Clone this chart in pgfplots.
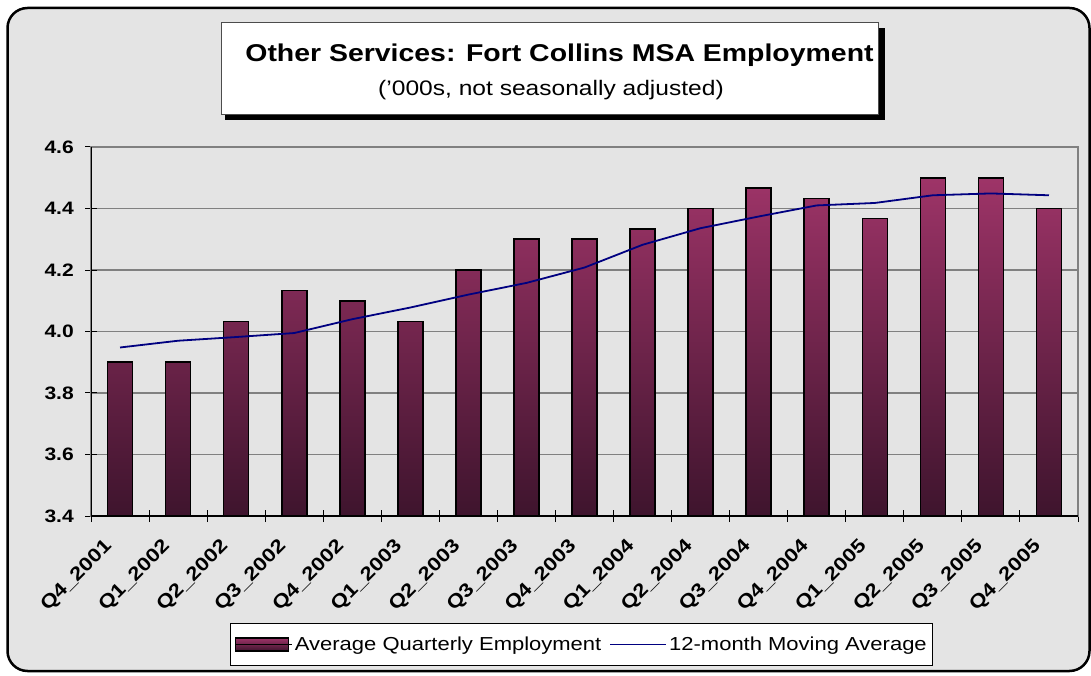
\documentclass[border=0pt]{standalone}
\usepackage{pgfplots}
\pgfplotsset{compat=1.18}
\usepackage{fontspec}
\setmainfont{Liberation Sans}[FakeStretch=1.17]
\definecolor{bggray}{RGB}{228,228,228}
\definecolor{plumtop}{RGB}{158,52,104}
\definecolor{plummid}{RGB}{125,40,84}
\definecolor{plumbot}{RGB}{62,20,45}
\definecolor{navyline}{RGB}{0,0,128}
\definecolor{gridgray}{RGB}{128,128,128}
\pgfplotsset{
  barlegend/.style={legend image code/.code={\draw[##1, line width=1.2pt] (0pt,-6.5pt) rectangle (53pt,6.5pt); \path (0pt,0pt) -- (57pt,0pt);}},
  linelegend/.style={legend image code/.code={\draw[##1] (0pt,0pt) -- (56pt,0pt);}},
}
\begin{document}
\begin{tikzpicture}[x=1pt,y=1pt]
\fill[white] (0,0) rectangle (1091,675);
\filldraw[fill=bggray, draw=black, line width=2.5pt, rounded corners=20pt] (7.5,4) rectangle (1089.5,667);
% title box
\fill[black] (225,555) rectangle (885,647);
\filldraw[fill=white, draw=black!70, line width=1pt] (221,560) rectangle (878,652);
\node[anchor=base, inner sep=0pt, font=\bfseries\fontsize{24.3}{28}\selectfont] at (559.5,613) {Other Services: Fort Collins MSA Employment};
\node[anchor=base, inner sep=0pt, font=\fontsize{21}{25}\selectfont] at (551,579) {('000s, not seasonally adjusted)};
\begin{axis}[
  at={(91pt,159pt)}, anchor=south west,
  scale only axis, width=987pt, height=369pt,
  xmin=-0.5, xmax=16.5,
  y coord trafo/.code={\pgfmathparse{#1-3.4}},
  y coord inv trafo/.code={\pgfmathparse{#1+3.4}},
  ymin=3.4, ymax=4.6,
  ytick={3.4,3.6,3.8,4.0,4.2,4.4,4.6},
  yticklabels={3.4,3.6,3.8,4.0,4.2,4.4,4.6},
  xtick={0,...,16},
  xticklabels={Q4\_2001,Q1\_2002,Q2\_2002,Q3\_2002,Q4\_2002,Q1\_2003,Q2\_2003,Q3\_2003,Q4\_2003,Q1\_2004,Q2\_2004,Q3\_2004,Q4\_2004,Q1\_2005,Q2\_2005,Q3\_2005,Q4\_2005},
  minor xtick={-0.5,0.5,...,16.5},
  major x tick style={draw=none},
  minor x tick style={draw=black, line width=1pt},
  major y tick style={draw=black, line width=1pt},
  tick pos=left,
  tick align=center,
  major tick length=12pt,
  minor tick length=12pt,
  ymajorgrids,
  major grid style={draw=gridgray, line width=1.3pt},
  axis line style={draw=gridgray, line width=1.3pt},
  xticklabel style={rotate=45, anchor=north east, inner sep=0pt, font=\bfseries\fontsize{19}{21}\selectfont, xshift=-23pt, yshift=1pt},
  yticklabel style={anchor=east, inner sep=0pt, font=\bfseries\fontsize{18}{20}\selectfont, xshift=-11pt},
  legend style={at={(0.497,-0.348)}, anchor=center, draw=black, line width=1pt, fill=white,
    font=\fontsize{18.8}{22}\selectfont, inner xsep=4pt, inner ysep=11.5pt,
    /tikz/every even column/.append style={column sep=6pt}},
  legend columns=2,
]
\addplot[ybar, bar width=25pt, draw=black, line width=1.6pt,
  top color=plumtop, middle color=plummid, bottom color=plumbot, barlegend]
coordinates {(0,3.9) (1,3.9) (2,4.033) (3,4.133) (4,4.1) (5,4.033) (6,4.2) (7,4.3) (8,4.3)
 (9,4.333) (10,4.4) (11,4.467) (12,4.433) (13,4.367) (14,4.5) (15,4.5) (16,4.4)};
\addlegendentry{Average Quarterly Employment}
\addplot[draw=navyline, line width=1.8pt, mark=none, linelegend]
coordinates {(0,3.948) (1,3.970) (2,3.982) (3,3.995) (4,4.040) (5,4.078) (6,4.120) (7,4.158) (8,4.208)
 (9,4.282) (10,4.336) (11,4.374) (12,4.410) (13,4.418) (14,4.443) (15,4.449) (16,4.443)};
\addlegendentry{12-month Moving Average}
\draw[black, line width=1.3pt] (rel axis cs:0,1) -- (rel axis cs:0,0) -- (rel axis cs:1,0);
\end{axis}
\end{tikzpicture}
\end{document}
